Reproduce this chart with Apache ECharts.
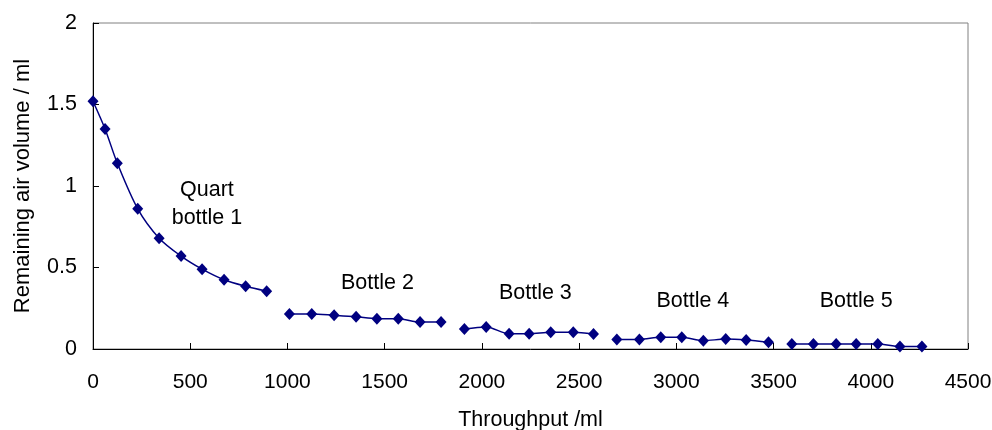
<!DOCTYPE html>
<html>
<head>
<meta charset="utf-8">
<script src="https://cdn.jsdelivr.net/npm/echarts@6/dist/echarts.min.js"></script>
<style>
  html, body { margin: 0; padding: 0; background: #fff; }
  #chart { width: 992px; height: 430px; }
</style>
</head>
<body>
<div id="chart"></div>
<script>
// throughput (ml) and remaining air (ml) per bottle
const bottle1X = [0, 62, 125, 230, 340, 453, 561, 674, 785, 893];
const bottle1Y = [1.52, 1.35, 1.14, 0.86, 0.68, 0.57, 0.49, 0.425, 0.385, 0.355];
const bottle2X = [1010, 1125, 1240, 1353, 1460, 1570, 1682, 1790];
const bottle2Y = [0.215, 0.215, 0.207, 0.198, 0.186, 0.186, 0.165, 0.165];
const bottle3X = [1910, 2022, 2140, 2243, 2354, 2470, 2574];
const bottle3Y = [0.122, 0.135, 0.093, 0.093, 0.102, 0.102, 0.092];
const bottle4X = [2694, 2810, 2920, 3028, 3139, 3254, 3359, 3474];
const bottle4Y = [0.059, 0.059, 0.072, 0.072, 0.051, 0.061, 0.055, 0.041];
const bottle5X = [3594, 3705, 3822, 3925, 4036, 4150, 4263];
const bottle5Y = [0.031, 0.031, 0.031, 0.031, 0.031, 0.015, 0.015];

const labelText = ["Quart\nbottle 1", "Bottle 2", "Bottle 3", "Bottle 4", "Bottle 5"];
const labelX = [586, 1463, 2275, 3085, 3925];
const labelY = [0.89, 0.405, 0.344, 0.297, 0.297];

const font = "Liberation Sans, Arial, sans-serif";

function pairs(xs, ys) {
  return xs.map((x, i) => [x, ys[i]]);
}

function bottleSeries(xs, ys) {
  return {
    type: "line",
    data: pairs(xs, ys),
    smooth: 0.3,
    symbol: "diamond",
    symbolSize: [11, 12],
    lineStyle: { color: "#000080", width: 1.5 },
    itemStyle: { color: "#000080" },
    emphasis: { disabled: true },
    animation: false,
  };
}

let myChart = echarts.init(document.getElementById("chart"));
myChart.setOption({
  animation: false,
  grid: {
    left: 93,
    right: 24,
    top: 23,
    bottom: 81,
    containLabel: false,
    outerBoundsMode: "none",
    show: true,
    borderColor: "#808080",
    borderWidth: 1,
  },
  xAxis: {
    type: "value",
    min: 0,
    max: 4500,
    interval: 500,
    name: "Throughput /ml",
    nameLocation: "middle",
    nameGap: 60,
    nameTextStyle: { color: "#000", fontSize: 21.5, fontFamily: font },
    axisLine: { show: true, lineStyle: { color: "#000", width: 1 } },
    axisTick: { show: true, inside: true, length: 6, lineStyle: { color: "#000" } },
    axisLabel: {
      color: "#000",
      fontSize: 21,
      fontFamily: font,
      margin: 23,
      formatter: function (value) {
        return String(value);
      },
    },
    splitLine: { show: false },
  },
  yAxis: {
    type: "value",
    min: 0,
    max: 2,
    interval: 0.5,
    name: "Remaining air volume / ml",
    nameLocation: "middle",
    nameGap: 59,
    nameTextStyle: { color: "#000", fontSize: 22, fontFamily: font },
    axisLine: { show: true, lineStyle: { color: "#000", width: 1 } },
    axisTick: { show: true, inside: true, length: 6, lineStyle: { color: "#000" } },
    axisLabel: { color: "#000", fontSize: 21.5, fontFamily: font, margin: 16 },
    splitLine: { show: false },
  },
  series: [
    bottleSeries(bottle1X, bottle1Y),
    bottleSeries(bottle2X, bottle2Y),
    bottleSeries(bottle3X, bottle3Y),
    bottleSeries(bottle4X, bottle4Y),
    bottleSeries(bottle5X, bottle5Y),
  ],
});

// annotations placed in data coordinates
myChart.setOption({
  graphic: labelText.map((t, i) => {
    const p = myChart.convertToPixel({ gridIndex: 0 }, [labelX[i], labelY[i]]);
    return {
      type: "text",
      x: p[0],
      y: p[1],
      style: {
        text: t,
        fill: "#000",
        font: "21.5px " + font,
        align: "center",
        verticalAlign: "middle",
        lineHeight: 28,
      },
    };
  }),
});
</script>
</body>
</html>
